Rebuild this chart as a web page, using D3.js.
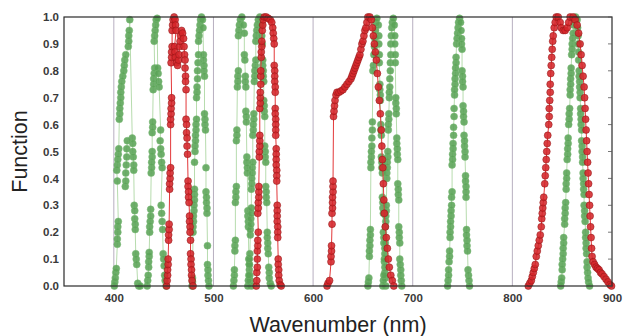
<!DOCTYPE html>
<html>
<head>
<meta charset="utf-8">
<script src="https://cdn.jsdelivr.net/npm/d3@7"></script>
<style>
  body { margin: 0; background: #fff; }
  text { font-family: "Liberation Sans", Arial, sans-serif; }
</style>
</head>
<body>
<div id="root"></div>
<script>
// filter curves: [wavelength nm, function value]
const green1 = [[400.5,0.0],[401,0.015],[401.5,0.03],[402,0.05],[402.5,0.065],
  [403.5,0.155],[403.5,0.175],[404,0.2],[404,0.22],[404.5,0.24],[403.5,0.39],
  [403,0.43],[403.5,0.45],[404,0.47],[404.5,0.49],[405,0.51],
  [405.5,0.62],[406,0.64],[406,0.66],[406.5,0.68],[407,0.7],[407,0.72],[407.5,0.74],[408,0.76],[409,0.78],[410,0.8],[410.5,0.82],[411,0.84],[412,0.86],
  [414.5,0.89],[415,0.91],[415,0.93],[415.5,0.95],[416,0.99],
  [418.5,0.55],[419,0.53],[419,0.5],[419.5,0.48],[420,0.45],[420,0.43],
  [420.5,0.3],[421,0.28],[421,0.25],[421.5,0.23],[421.5,0.21],
  [422,0.12],[422.5,0.1],[423,0.08],[424,0.01],[425,0.0],[426.5,0.0]];
const green1b = [[411.5,0.37],[412,0.39],[412,0.42],[412.5,0.45],[413,0.48],[413,0.51],[413.5,0.54]];
const green2 = [[433.5,0.0],[434,0.02],[434.5,0.04],[435,0.07],[435,0.09],[435.5,0.11],[435.5,0.125],
  [436,0.2],[436,0.22],[436.5,0.24],[437,0.26],[437,0.285],
  [437.5,0.42],[438,0.44],[438,0.46],[438.5,0.48],[438.5,0.5],[438.5,0.57],[439,0.59],[439,0.61],
  [439.5,0.73],[440,0.75],[440,0.77],[440.5,0.79],[441,0.81],
  [440.5,0.91],[441,0.93],[441.5,0.95],[442,0.97],[442.5,0.99],[443.5,0.995],
  [444,0.81],[444.5,0.79],[445,0.76],[445.5,0.74],[447,0.58],
  [446.5,0.54],[447,0.51],[447.5,0.49],[448,0.46],[448.5,0.44],
  [447.5,0.3],[448,0.27],[448.5,0.24],[449,0.21],
  [449.5,0.12],[450,0.1],[450.5,0.075],[451,0.04],[451.5,0.02],[452.5,0.0]];
const green3 = [[478.5,0.0],[479,0.015],[479,0.03],
  [479.5,0.2],[479.5,0.22],[480,0.24],[480,0.26],[480.5,0.28],[480.5,0.3],[481,0.32],[481,0.34],[481,0.36],[481,0.46],
  [481.5,0.5],[481.5,0.52],[482,0.54],[482,0.56],[482.5,0.58],[482.5,0.6],[483,0.62],
  [483,0.7],[483.5,0.72],[483.5,0.74],[484,0.77],[484,0.8],[484.5,0.83],[485,0.86],
  [485,0.91],[485.5,0.93],[486,0.95],[486.5,0.97],[487,0.99],[488,1.0],
  [489,0.99],[489.5,0.96],[490,0.86],[490,0.84],[490.5,0.82],[490.5,0.8],[491,0.78],
  [491,0.64],[491.5,0.62],[491.5,0.6],[492,0.58],[492.5,0.44],
  [492.5,0.35],[493,0.33],[493,0.31],[493.5,0.29],[493.5,0.27],[494,0.15],
  [494,0.08],[494.5,0.06],[494.5,0.04],[495,0.02],[495.5,0.0]];
const green4 = [[520,0.0],[520.5,0.02],[521,0.04],[521,0.06],
  [521.5,0.13],[521.5,0.15],[522,0.17],[522,0.31],[522.5,0.33],[522.5,0.35],[523,0.37],
  [523,0.54],[523.5,0.56],[523.5,0.58],[524,0.74],[524.5,0.76],[524.5,0.78],[525,0.8],
  [525,0.93],[525.5,0.95],[526,0.97],[527,0.99],[528.5,1.0],
  [530,0.97],[531,0.94],[531,0.86],[531.5,0.84],[532,0.78],[532,0.76],[532.5,0.74],
  [532.5,0.65],[533,0.63],[533,0.61],[533.5,0.48],[533.5,0.46],[534,0.44],[534,0.42],
  [534.5,0.28],[534.5,0.26],[535,0.24],[535,0.22],
  [535.5,0.1],[536,0.08],[536,0.06],[536.5,0.04],[537,0.02],[538,0.0]];
const green5 = [[534.5,0.0],[535,0.02],[535.5,0.04],[536,0.08],[536,0.1],[536.5,0.12],
  [537,0.19],[537,0.21],[537.5,0.23],[537.5,0.25],[538,0.27],[538,0.29],
  [538,0.36],[538.5,0.38],[538.5,0.4],[539,0.42],[539,0.44],[539.5,0.46],
  [539.5,0.56],[540,0.58],[540,0.6],[540.5,0.62],[540.5,0.64],
  [541,0.76],[541.5,0.78],[541.5,0.8],[542,0.82],[542.5,0.84],
  [542.5,0.91],[543,0.93],[543.5,0.95],[544,0.97],[545,0.99],[546.5,1.0],
  [548,0.97],[548.5,0.93],[549,0.9],[549.5,0.84],[549.5,0.82],[550,0.8],[550,0.78],[550.5,0.76],
  [550.5,0.69],[551,0.67],[551,0.65],[551.5,0.63],[551.5,0.52],[552,0.5],[552,0.48],[552.5,0.46],
  [552.5,0.37],[553,0.35],[553,0.33],[553.5,0.31],
  [554,0.2],[554,0.18],[554.5,0.16],[554.5,0.14],[555,0.12],
  [555.5,0.07],[556,0.05],[556,0.03],[557,0.01],[558,0.0]];
const green6 = [[655,0.0],[655.5,0.015],[656,0.03],
  [656.5,0.11],[656.5,0.13],[657,0.15],[657,0.17],[657.5,0.19],[657.5,0.21],
  [658,0.44],[658,0.46],[658.5,0.48],[658.5,0.5],[659,0.52],[659,0.55],[659.5,0.58],[659.5,0.61],
  [660,0.8],[660.5,0.82],[661,0.86],[661.5,0.89],[662,0.92],[662.5,0.95],[663,0.98],[664,0.995],
  [665.5,0.97],[666,0.93],[666,0.9],[666.5,0.86],[666.5,0.83],
  [667,0.75],[667,0.73],[667.5,0.71],[667.5,0.69],[668,0.6],[668,0.58],[668.5,0.56],
  [668.5,0.48],[669,0.46],[669,0.44],[669.5,0.42],[669.5,0.33],[670,0.31],[670,0.29],[670.5,0.27],
  [670.5,0.2],[671,0.18],[671,0.16],[671.5,0.09],[672,0.07],[672,0.05],[672.5,0.03],[673,0.0]];
const green7 = [[670,0.0],[670.5,0.02],[671,0.04],[671.5,0.1],[672,0.12],[672,0.14],[672.5,0.16],
  [672.5,0.22],[673,0.24],[673,0.26],[673.5,0.28],[673.5,0.3],
  [674,0.4],[674,0.42],[674.5,0.44],[674.5,0.46],[675,0.48],[675,0.5],
  [675.5,0.58],[675.5,0.6],[676,0.62],[676,0.64],
  [676.5,0.7],[676.5,0.72],[677,0.74],[677,0.77],[677.5,0.8],[677.5,0.83],[678,0.86],
  [678,0.9],[678.5,0.93],[679,0.96],[679.5,0.98],[680.5,0.995],
  [681.5,0.97],[682,0.93],[682,0.9],[682.5,0.86],[682.5,0.83],
  [683,0.7],[683,0.68],[683.5,0.66],[683.5,0.64],
  [684,0.55],[684,0.53],[684.5,0.51],[684.5,0.49],[685,0.47],
  [685,0.38],[685.5,0.36],[685.5,0.34],[686,0.32],[686,0.22],[686.5,0.2],[686.5,0.18],[687,0.16],
  [687,0.1],[687.5,0.08],[688,0.06],[688,0.04],[688.5,0.02],[689,0.0]];
const green8 = [[735,0.0],[735.5,0.02],[736,0.04],[736,0.06],[736.5,0.09],[737,0.11],[737,0.13],
  [737.5,0.18],[737.5,0.2],[738,0.22],[738,0.24],[738.5,0.26],[738.5,0.28],[739,0.3],[739,0.33],[739.5,0.35],
  [739.5,0.45],[740,0.47],[740,0.49],[740.5,0.51],[740.5,0.53],[741,0.56],[741,0.59],[741.5,0.63],[741.5,0.66],
  [742,0.71],[742,0.73],[742.5,0.75],[742.5,0.77],[743,0.79],[743,0.81],[743.5,0.83],[743.5,0.85],
  [744,0.9],[744.5,0.92],[745,0.94],[745.5,0.96],[746,0.98],[747,0.995],
  [748,0.98],[748.5,0.95],[749,0.92],[749,0.9],[749.5,0.88],
  [749.5,0.8],[750,0.78],[750,0.76],[750.5,0.74],[750.5,0.67],[751,0.65],[751,0.63],[751.5,0.61],
  [751.5,0.56],[752,0.54],[752,0.52],[752.5,0.5],[752.5,0.48],
  [753,0.41],[753,0.39],[753.5,0.37],[753.5,0.35],[753.5,0.33],
  [754,0.21],[754,0.19],[754.5,0.17],[754.5,0.15],[755,0.13],
  [755.5,0.06],[756,0.04],[756.5,0.02],[757,0.0]];
const green9 = [[848.5,0.0],[849,0.015],[849.5,0.03],
  [850,0.06],[850,0.08],[850.5,0.1],[851,0.12],[851,0.14],[851.5,0.16],[851.5,0.18],
  [852.5,0.23],[852.5,0.25],[853,0.27],[853,0.29],[853.5,0.31],
  [854,0.36],[854,0.38],[854.5,0.4],[854.5,0.42],
  [855,0.47],[855.5,0.49],[855.5,0.51],[856,0.53],[856,0.55],
  [856.5,0.6],[857,0.62],[857,0.64],[857.5,0.66],
  [858,0.71],[858,0.73],[858.5,0.75],[858.5,0.77],[859,0.79],[859,0.81],
  [859.5,0.86],[860,0.88],[860,0.9],[860.5,0.92],[861,0.94],[861.5,0.97],[862,0.99],[863.5,1.0],
  [865,0.99],[865.5,0.96],[866,0.93],[866,0.9],[866.5,0.87],[866.5,0.84],
  [867,0.8],[867,0.78],[867.5,0.76],[867.5,0.74],[868,0.72],[868,0.7],
  [868.5,0.66],[868.5,0.64],[869,0.62],[869,0.6],[869.5,0.58],
  [869.5,0.54],[870,0.52],[870,0.5],[870.5,0.48],[870.5,0.46],
  [871,0.42],[871,0.4],[871.5,0.38],[871.5,0.36],[872,0.34],
  [872,0.3],[872.5,0.28],[872.5,0.26],[873,0.24],
  [873.5,0.2],[873.5,0.18],[874,0.16],[874,0.14],[874.5,0.12],
  [875,0.09],[875,0.07],[875.5,0.05],[876,0.03],[876.5,0.015],[877.5,0.0]];

const red1 = [[453,0.0],[453.5,0.02],[454,0.04],[454,0.06],[454.5,0.08],[454.5,0.1],
  [455,0.17],[455,0.19],[455.5,0.21],[455.5,0.23],
  [456,0.36],[456,0.38],[456.5,0.4],[456.5,0.42],[457,0.44],
  [457,0.6],[457,0.62],[457.5,0.64],[457.5,0.66],[458,0.68],[458,0.7],
  [457.5,0.83],[458,0.85],[458,0.87],[458.5,0.89],
  [458.5,0.95],[459,0.97],[459.5,0.99],[460.5,1.0],[461.5,0.99],[462,0.97],[462.5,0.95],
  [461,0.89],[461.5,0.87],[462,0.85],[463,0.83],[464,0.82],[465,0.84],[465.5,0.86],
  [466,0.89],[466.5,0.91],[467,0.93],[468,0.95],[469,0.94],[470,0.92],[470.5,0.89],[471,0.86],
  [471.5,0.84],[471.5,0.81],[472,0.78],[472,0.76],[472.5,0.73],
  [472.5,0.62],[473,0.6],[473,0.57],[473.5,0.55],[473.5,0.52],[474,0.49],
  [474.5,0.39],[474.5,0.37],[475,0.35],[475,0.33],[475.5,0.31],
  [476,0.26],[476,0.24],[476.5,0.22],[476.5,0.2],[477,0.17],
  [477,0.12],[477.5,0.1],[477.5,0.08],[478,0.06],[478,0.04],[478.5,0.02],[479.5,0.0]];
const red2 = [[543,0.0],[543.5,0.02],[543.5,0.05],[544,0.07],[544,0.1],[544,0.13],[544.5,0.15],[544.5,0.17],[545,0.2],
  [544.5,0.27],[545,0.29],[545,0.31],[545.5,0.33],[545.5,0.35],[545.5,0.37],
  [546,0.48],[546,0.5],[546.5,0.52],[546.5,0.54],[546.5,0.56],
  [546.5,0.66],[547,0.68],[547,0.7],[547,0.72],[547.5,0.75],[547.5,0.78],[547.5,0.8],
  [548,0.85],[548,0.87],[548.5,0.89],[548.5,0.91],[549,0.95],[549.5,0.97],[550,0.99],
  [551,1.0],[553,1.0],[555,0.995],[557,0.99],[558.5,0.98],[559.5,0.96],[560,0.94],[560.5,0.92],[561,0.9],
  [561,0.82],[561.5,0.8],[561.5,0.78],[561.5,0.76],[562,0.74],[562,0.72],
  [562,0.66],[562,0.64],[562.5,0.62],[562.5,0.6],[562.5,0.58],[562.5,0.56],
  [563,0.51],[563,0.49],[563,0.47],[563,0.45],[563.5,0.43],[563.5,0.41],[563.5,0.39],
  [564,0.3],[564,0.28],[564,0.26],[564,0.24],[564.5,0.22],[564.5,0.2],[564.5,0.18],
  [565,0.1],[565,0.08],[565.5,0.06],[565.5,0.04],[566,0.02],[567,0.005],[568,0.0]];
const red3 = [[614,0.0],[615,0.01],[616.5,0.02],
  [618,0.09],[618,0.11],[618.5,0.13],[618.5,0.15],[619,0.23],
  [619,0.27],[619.5,0.29],[619.5,0.31],[619.5,0.33],[620,0.35],[620,0.37],[620,0.39],[620.5,0.63],
  [621,0.65],[621.5,0.67],[622,0.69],[623,0.71],[624,0.72],[626,0.72],[628,0.725],[630,0.73],[632,0.74],
  [634,0.75],[636,0.76],[638,0.77],[639,0.78],[640,0.79],[641,0.8],[642,0.81],[643,0.82],[644,0.83],
  [645,0.84],[646,0.85],[647,0.86],[648,0.88],[649,0.9],[650,0.91],[651,0.93],[652,0.95],[653,0.96],
  [654,0.98],[655,1.0],[657,1.0],[658.5,0.99],
  [659.5,0.96],[660.5,0.93],[661.5,0.9],[662.5,0.87],[663.5,0.84],[664.5,0.79],[665.5,0.74],[666.5,0.69],
  [667.5,0.64],[668.5,0.58],[669,0.52],[669.5,0.47],[670,0.44],[670.5,0.38],[671,0.32],[671.5,0.27],
  [672.5,0.22],[673.5,0.18],[674.5,0.14],[675.5,0.1],[676.5,0.07],[678,0.04],[679.5,0.02],[681,0.0]];
const red4 = [[816,0.0],[817.5,0.01],[819,0.02],[820,0.035],[821,0.05],[822,0.065],[823,0.08],
  [824,0.11],[825,0.13],[826,0.15],[827,0.17],[828,0.19],
  [829,0.22],[829.5,0.25],[830,0.27],[830.5,0.29],[831,0.31],[831.5,0.33],
  [832.5,0.38],[833,0.41],[833.5,0.44],[834,0.47],[834.5,0.5],[835,0.53],[835.5,0.56],
  [836.5,0.6],[837,0.63],[837,0.66],[837.5,0.69],[838,0.72],[838,0.75],
  [838.5,0.79],[839,0.82],[839.5,0.85],[840,0.88],[840.5,0.91],[841,0.93],
  [842,0.96],[843,0.98],[844,1.0],[846,1.0],[848,0.98],[849,0.96],[851,0.95],[853,0.95],[855,0.96],
  [856.5,0.98],[858,1.0],[861,1.0],
  [863,0.99],[865,0.97],[866.5,0.94],[868,0.9],[869,0.86],[870,0.82],[871,0.78],[872,0.74],[872.5,0.7],
  [873,0.66],[873.5,0.62],[874,0.58],[874.5,0.54],[875,0.5],[875.5,0.46],[876,0.42],[876.5,0.38],
  [877,0.34],[877.5,0.3],[878,0.26],[878.5,0.22],[879,0.18],[879.5,0.14],[880,0.11],[881,0.09],
  [882.5,0.08],[884,0.07],[885.5,0.065],[887,0.06],[888.5,0.05],[890,0.045],[892,0.035],[894,0.025],
  [896,0.015],[898,0.005],[899.5,0.0]];

const greenSeries = [green1, green1b, green2, green3, green4, green5, green6, green7, green8, green9];
const redSeries = [red1, red2, red3, red4];

const xTicks = [400, 500, 600, 700, 800, 900];
const xGrid = [400, 500, 600, 700, 800];
const yTicks = [0, 0.1, 0.2, 0.3, 0.4, 0.5, 0.6, 0.7, 0.8, 0.9, 1.0];

// chart box
const margin = { top: 17, right: 12, bottom: 50, left: 64 },
  width = 624 - margin.left - margin.right,
  height = 336 - margin.top - margin.bottom;

const svg = d3.select("#root")
  .append("svg")
  .attr("width", 624)
  .attr("height", 336);

const g = svg.append("g")
  .attr("transform", `translate(${margin.left},${margin.top})`);

const x = d3.scaleLinear().domain([350, 900]).range([0, width]);
const y = d3.scaleLinear().domain([0, 1]).range([height, 0]);

// vertical grid lines
g.selectAll(".grid")
  .data(xGrid)
  .enter()
  .append("line")
  .attr("class", "grid")
  .attr("x1", d => x(d)).attr("x2", d => x(d))
  .attr("y1", 0).attr("y2", height)
  .attr("stroke", "#a59bb0")
  .attr("stroke-width", 0.8);

const line = d3.line()
  .x(d => x(d[0]))
  .y(d => y(d[1]));

function drawSeries(list, lineColor, fill, stroke) {
  list.forEach(s => {
    g.append("path")
      .datum(s)
      .attr("fill", "none")
      .attr("stroke", lineColor)
      .attr("stroke-width", 1)
      .attr("d", line);
  });
  list.forEach(s => {
    g.append("g").selectAll("circle")
      .data(s)
      .enter()
      .append("circle")
      .attr("cx", d => x(d[0]))
      .attr("cy", d => y(d[1]))
      .attr("r", 3.5)
      .attr("fill", fill)
      .attr("fill-opacity", 0.88)
      .attr("stroke", stroke)
      .attr("stroke-width", 0.5);
  });
}

drawSeries(greenSeries, "#b7dcae", "#5aa356", "#78b874");
drawSeries(redSeries, "#e3383a", "#d4262a", "#8e1515");

// frame
g.append("rect")
  .attr("x", 0).attr("y", 0)
  .attr("width", width).attr("height", height)
  .attr("fill", "none")
  .attr("stroke", "#2a2a2a")
  .attr("stroke-width", 1.2);

// small inward ticks on the right edge
g.selectAll(".rtick")
  .data(yTicks)
  .enter()
  .append("line")
  .attr("x1", width).attr("x2", width - 4)
  .attr("y1", d => y(d)).attr("y2", d => y(d))
  .attr("stroke", "#555")
  .attr("stroke-width", 0.8);

// axes labels
const yAxis = g.append("g")
  .call(d3.axisLeft(y).tickValues(yTicks).tickFormat(d3.format(".1f")).tickSize(0).tickPadding(5));
yAxis.select(".domain").remove();
yAxis.selectAll("text")
  .attr("font-size", 11.5)
  .attr("font-weight", "bold")
  .attr("fill", "#3a3a3a");

const xAxis = g.append("g")
  .attr("transform", `translate(0,${height})`)
  .call(d3.axisBottom(x).tickValues(xTicks).tickFormat(d3.format("d")).tickSize(0).tickPadding(8));
xAxis.select(".domain").remove();
xAxis.selectAll("text")
  .attr("font-size", 11.5)
  .attr("font-weight", "bold")
  .attr("fill", "#3a3a3a");

svg.append("text")
  .attr("x", 338)
  .attr("y", 332)
  .attr("text-anchor", "middle")
  .attr("font-size", 21.5)
  .attr("fill", "#222")
  .text("Wavenumber (nm)");

svg.append("text")
  .attr("transform", `translate(27,${margin.top + height / 2}) rotate(-90)`)
  .attr("text-anchor", "middle")
  .attr("font-size", 21.5)
  .attr("fill", "#222")
  .text("Function");
</script>
</body>
</html>
